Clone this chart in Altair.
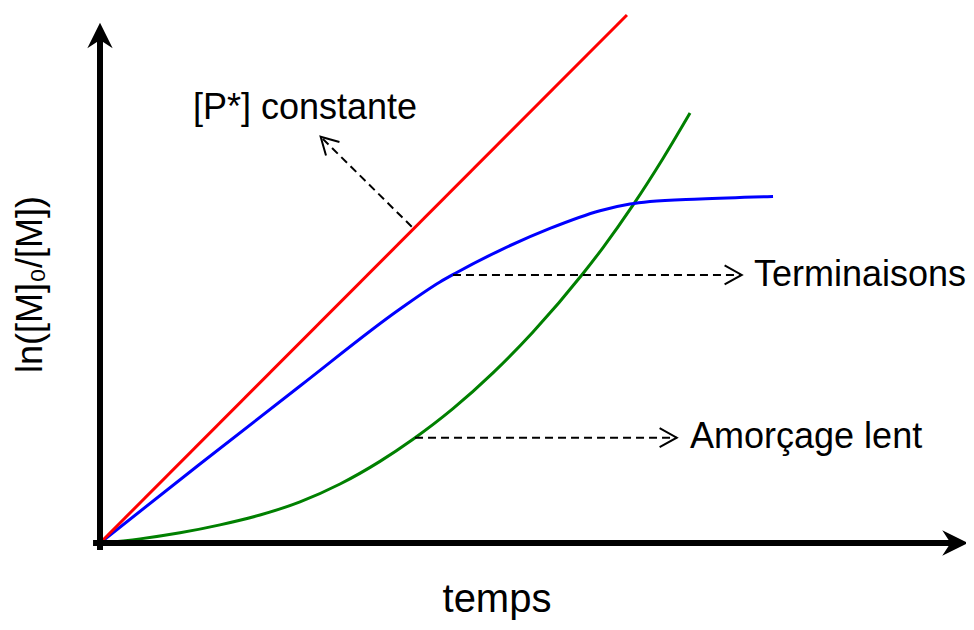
import altair as alt
import pandas as pd

# ---- data (arbitrary units: t = temps, v = ln([M]0/[M])) ----
red_t = [0.0, 6.057]
red_v = [0.0, 9.962]

blue_t = [0.0, 1.149, 2.299, 3.448, 3.908, 4.080, 4.598, 5.172, 5.747, 6.092, 6.322, 6.897, 7.736]
blue_v = [0.0, 1.491, 2.962, 4.415, 4.925, 5.085, 5.523, 5.936, 6.270, 6.396, 6.443, 6.491, 6.538]

green_t = [0.0, 0.460, 0.920, 1.379, 1.839, 2.299, 2.759, 3.218, 3.598, 4.057, 4.517, 4.977,
           5.552, 5.782, 6.126, 6.471, 6.782]
green_v = [0.0, 0.078, 0.192, 0.342, 0.528, 0.776, 1.113, 1.540, 1.957, 2.534, 3.209, 3.981,
           5.085, 5.574, 6.374, 7.255, 8.113]

# annotation arrows (start -> tip)
ann_t0 = [3.583, 4.057, 3.621]
ann_v0 = [5.968, 5.057, 1.987]
ann_t1 = [2.536, 7.376, 6.629]
ann_v1 = [7.666, 5.057, 1.987]
ann_angle = [225, 0, 0]

labels = ["[P*] constante", "Terminaisons", "Amorçage lent"]
label_t = [2.356, 7.517, 6.782]
label_v = [8.000, 4.849, 1.792]
label_align = ["center", "left", "left"]

x_title = "temps"
y_title = "ln([M]₀/[M])"

# axes (drawn as arrows)
axis_t0 = [0.0, -0.080]
axis_v0 = [-0.132, 0.0]
axis_t1 = [0.0, 9.874]
axis_v1 = [9.491, 0.0]
head_t = [0.0, 9.828]
head_v = [9.575, 0.0]
head_angle = [0, 90]

X_DOMAIN = [-1.0575, 9.954]
Y_DOMAIN = [-1.4906, 10.0943]
FONT = "Liberation Sans"

xs = alt.Scale(domain=X_DOMAIN, nice=False, zero=False)
ys = alt.Scale(domain=Y_DOMAIN, nice=False, zero=False)


def X(f):
    return alt.X(f, type="quantitative", scale=xs, axis=None)


def Y(f):
    return alt.Y(f, type="quantitative", scale=ys, axis=None)


def curve(ts, vs, color):
    df = pd.DataFrame({"t": ts, "v": vs, "o": list(range(len(ts)))})
    return alt.Chart(df).mark_line(color=color, strokeWidth=3, interpolate="monotone").encode(
        x=X("t"), y=Y("v"), order=alt.Order("o:Q")
    )


green = curve(green_t, green_v, "#008000")
blue = curve(blue_t, blue_v, "#0000ff")
red = curve(red_t, red_v, "#ff0000")

ann_df = pd.DataFrame({"t0": ann_t0, "v0": ann_v0, "t1": ann_t1, "v1": ann_v1, "a": ann_angle})
dashes = alt.Chart(ann_df).mark_rule(color="black", strokeWidth=2, strokeDash=[8, 5]).encode(
    x=X("t0"), y=Y("v0"), x2="t1", y2="v1"
)
chevrons = alt.Chart(ann_df).mark_point(
    shape="M-1.8,-1L0,0L-1.8,1", filled=False, stroke="black", strokeWidth=2, size=361, opacity=1
).encode(x=X("t1"), y=Y("v1"), angle=alt.Angle("a:Q", scale=None))

lab_df = pd.DataFrame({"t": label_t, "v": label_v, "txt": labels, "al": label_align})
lab_layers = []
for al in ["center", "left"]:
    lab_layers.append(
        alt.Chart(lab_df[lab_df["al"] == al]).mark_text(
            font=FONT, fontSize=36, align=al, baseline="alphabetic", color="black"
        ).encode(x=X("t"), y=Y("v"), text="txt:N")
    )

title_df = pd.DataFrame({"t": [4.563, -0.793], "v": [-1.300, 4.877], "txt": [x_title, y_title]})
xt = alt.Chart(title_df.iloc[[0]]).mark_text(
    font=FONT, fontSize=40, align="center", baseline="alphabetic", color="black"
).encode(x=X("t"), y=Y("v"), text="txt:N")
yt = alt.Chart(title_df.iloc[[1]]).mark_text(
    font=FONT, fontSize=36, align="center", baseline="middle", angle=270, color="black"
).encode(x=X("t"), y=Y("v"), text="txt:N")

axis_df = pd.DataFrame({"t0": axis_t0, "v0": axis_v0, "t1": axis_t1, "v1": axis_v1})
axes = alt.Chart(axis_df).mark_rule(color="black", strokeWidth=6, strokeCap="butt").encode(
    x=X("t0"), y=Y("v0"), x2="t1", y2="v1"
)
head_df = pd.DataFrame({"t": head_t, "v": head_v, "a": head_angle})
heads = alt.Chart(head_df).mark_point(
    shape="M0,-1L-0.99,1L0,0.35L0.99,1Z", filled=True, color="black", size=655, opacity=1, strokeWidth=0
).encode(x=X("t"), y=Y("v"), angle=alt.Angle("a:Q", scale=None))

chart = alt.layer(
    green, blue, red, dashes, chevrons, *lab_layers, xt, yt, axes, heads
).properties(
    width=958, height=614, padding=0, autosize=alt.AutoSizeParams(type="none"), background="white"
).configure_view(stroke=None)

chart.save("out.html", embed_options={"renderer": "svg", "actions": False})
